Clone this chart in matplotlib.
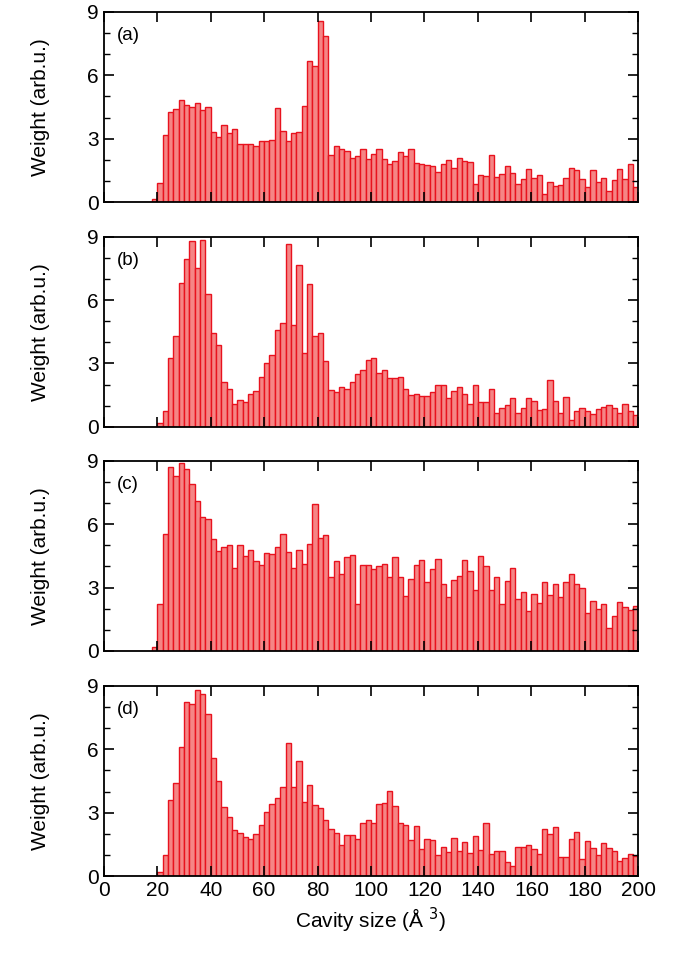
import numpy as np
import matplotlib
matplotlib.use('Agg')
import matplotlib.pyplot as plt
from matplotlib.ticker import MultipleLocator

plt.rcParams['font.family'] = ['Liberation Sans', 'DejaVu Sans']

# bar heights, bins of width 2
start_a = 18
w_a = [0.13, 0.9, 3.2, 4.25, 4.4, 4.85, 4.6, 4.5, 4.7, 4.35, 4.5, 3.3, 3.1, 3.65, 3.25, 3.45,
       2.75, 2.75, 2.75, 2.65, 2.9, 2.9, 2.95, 4.45, 3.35, 2.9, 3.25, 3.3, 4.55, 6.7, 6.45,
       8.55, 7.85, 2.25, 2.65, 2.5, 2.4, 2.1, 2.2, 2.5, 2.05,
       2.3, 2.5, 2.05, 1.8, 1.95, 2.35, 2.2, 2.5, 1.85, 1.8, 1.75, 1.7, 1.45, 1.8, 2.0, 1.6,
       2.1, 1.95, 1.9, 0.85, 1.3, 1.25, 2.25, 1.2, 1.35, 1.7, 1.4, 0.85, 1.1, 1.55, 1.15, 1.3,
       0.4, 0.95, 0.75, 0.8, 1.15, 1.6, 1.5, 1.1, 0.7, 1.5, 0.95, 1.15, 0.55, 1.05, 1.55, 1.1,
       1.8, 0.7]

start_b = 20
w_b = [0.2, 0.75, 3.25, 4.3, 6.8, 7.95, 8.8, 7.5, 8.85, 6.3, 4.45, 3.85, 2.1, 1.8, 1.1, 1.25,
       1.15, 1.55, 1.7, 2.35, 3.0, 3.4, 4.6, 4.9, 8.65, 4.8, 7.65, 3.5, 6.75, 4.3, 4.45, 3.1,
       1.75, 1.65, 1.9, 1.8, 2.1, 2.5, 2.7, 3.15, 3.25, 2.55,
       2.7, 2.3, 2.3, 2.35, 1.8, 1.5, 1.55, 1.45, 1.45, 1.65, 2.0, 2.0, 1.35, 1.7, 1.9, 1.55,
       1.1, 2.0, 1.15, 1.15, 1.8, 0.65, 0.9, 1.05, 1.35, 0.65, 0.9, 1.35, 1.2, 0.8, 0.85, 2.2,
       1.2, 0.65, 1.4, 0.3, 0.75, 0.9, 0.75, 0.6, 0.85, 0.95, 1.05, 0.9, 0.65, 1.1, 0.75, 0.55]

start_c = 18
w_c = [0.2, 2.2, 5.55, 8.7, 8.3, 8.9, 8.6, 7.9, 7.1, 6.35, 6.25, 5.3, 4.75, 4.9, 5.0, 3.95,
       5.0, 4.5, 4.8, 4.25, 4.05, 4.65, 4.6, 4.9, 5.55, 4.7, 3.95, 4.8, 4.1, 5.05, 6.95, 5.35,
       5.5, 3.5, 4.25, 3.65, 4.45, 4.55, 2.2, 4.05, 4.05,
       3.9, 4.0, 4.1, 3.5, 4.45, 3.5, 2.6, 3.4, 4.05, 4.3, 3.25, 3.9, 4.35, 3.15, 2.55, 3.35,
       3.55, 4.3, 3.8, 2.9, 4.5, 4.0, 2.9, 3.5, 2.2, 3.3, 3.95, 2.45, 2.8, 1.9, 2.7, 2.25,
       3.25, 2.65, 3.15, 2.55, 3.25, 3.65, 3.15, 3.0, 1.8, 2.35, 2.0, 2.2, 1.1, 1.65, 2.3, 2.1,
       1.95, 2.15]

start_d = 20
w_d = [0.2, 1.0, 3.6, 4.4, 6.1, 8.25, 8.15, 8.8, 8.6, 7.65, 5.6, 4.5, 3.25, 2.8, 2.2, 2.05,
       1.85, 1.75, 2.0, 2.4, 3.05, 3.4, 3.7, 4.2, 6.3, 4.2, 5.45, 3.5, 4.3, 3.35, 3.2, 2.65,
       2.25, 2.05, 1.45, 1.95, 1.95, 1.75, 2.5, 2.65, 2.5, 3.4,
       3.45, 4.05, 3.3, 2.5, 2.4, 1.7, 2.35, 1.3, 1.75, 1.7, 1.0, 1.4, 1.15, 1.8, 1.2, 1.6,
       1.1, 1.9, 1.25, 2.5, 1.05, 1.2, 1.2, 0.65, 0.5, 1.4, 1.4, 1.45, 1.3, 1.05, 2.25, 2.0,
       2.3, 0.9, 0.9, 1.75, 2.1, 0.8, 1.65, 1.35, 1.0, 1.55, 1.35, 1.2, 0.7, 0.85, 1.05, 0.95]

panels = [('(a)', start_a, w_a), ('(b)', start_b, w_b), ('(c)', start_c, w_c), ('(d)', start_d, w_d)]
tops = [0.9875, 0.753, 0.519, 0.284]
h = 0.1985

fig = plt.figure(figsize=(6.74, 9.58), dpi=100)
for k, (lab, start, w) in enumerate(panels):
    ax = fig.add_axes([0.154, tops[k] - h, 0.793, h])
    x = start + 2 * np.arange(len(w))
    ax.bar(x, w, width=2, align='edge', color='#f58585', edgecolor='#e8121e', linewidth=1.0)
    ax.plot([0, start], [0, 0], color='#e8121e', lw=1.0)
    ax.set_xlim(0, 200)
    ax.set_ylim(0, 9)
    ax.yaxis.set_major_locator(MultipleLocator(3))
    ax.yaxis.set_minor_locator(MultipleLocator(1))
    ax.xaxis.set_major_locator(MultipleLocator(20))
    ax.tick_params(direction='in', top=True, right=True, which='both', labelsize=15)
    ax.tick_params(which='major', length=7, width=1.2)
    ax.tick_params(which='minor', length=4, width=1.0)
    for s in ax.spines.values():
        s.set_linewidth(1.3)
    ax.set_ylabel('Weight (arb.u.)', fontsize=15)
    ax.yaxis.set_label_coords(-0.1, 0.5)
    ax.text(0.025, 0.92, lab, transform=ax.transAxes, fontsize=13.5, va='top')
    if k < 3:
        ax.set_xticklabels([])
    else:
        ax.set_xlabel('Cavity size (Å $^{3}$)', fontsize=15)

fig.savefig('out.png', dpi=100)
